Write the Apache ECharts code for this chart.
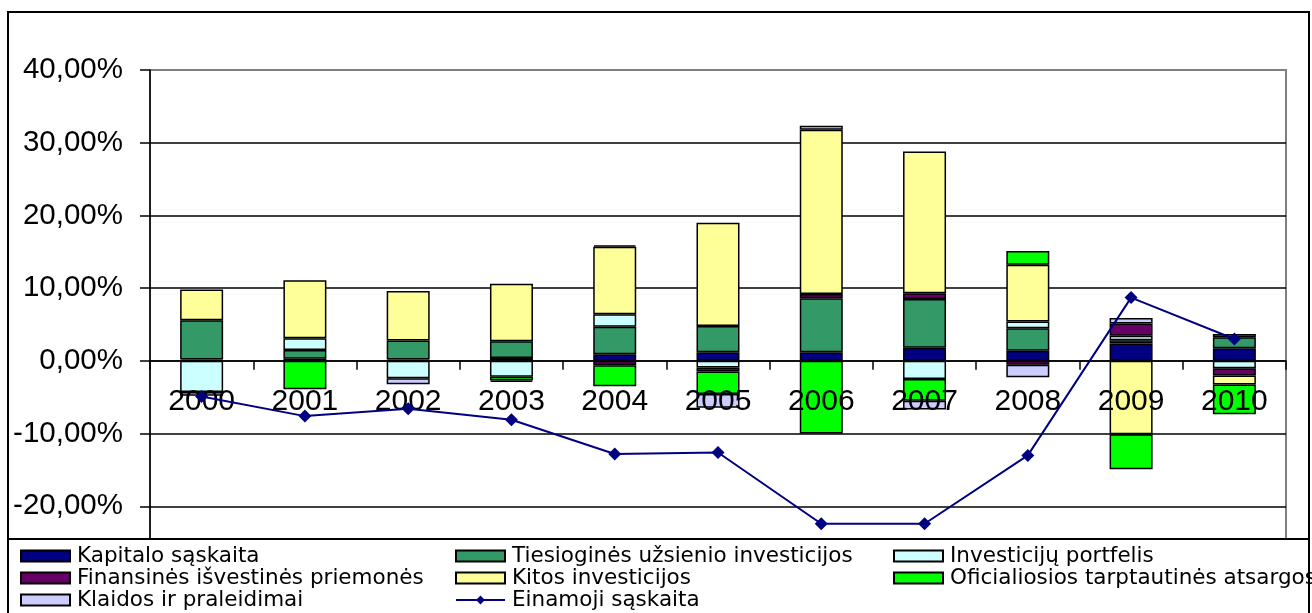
<!DOCTYPE html>
<html>
<head>
<meta charset="utf-8">
<title>Mokėjimų balansas</title>
<script src="https://cdn.jsdelivr.net/npm/echarts@6/dist/echarts.min.js"></script>
<style>
	html, body { margin: 0; padding: 0; background: #fff; }
	#chart_1 { width: 1312px; height: 613px; }
</style>
</head>
<body>
<div id="chart_1"></div>
<script>
// duomenys, % nuo BVP
var metai = ['2000', '2001', '2002', '2003', '2004', '2005', '2006', '2007', '2008', '2009', '2010'];
var kapitalo = [0.2, 0.3, 0.2, 0.4, 0.9, 1.2, 1.2, 1.8, 1.4, 2.4, 1.75];
var tiesiogines = [5.4, 1.2, 2.6, 2.3, 3.8, 3.6, 7.4, 6.7, 3.1, 0.45, 1.5];
var portfelis = [-4.3, 1.6, -2.4, -2.2, 1.7, -0.9, null, -2.5, 0.9, 0.6, -1.0];
var finansines = [null, null, null, null, -0.6, -0.55, 0.6, 0.8, -0.55, 1.7, -1.0];
var kitos = [4.2, 8.0, 6.8, 7.9, 9.3, 14.2, 22.6, 19.5, 7.8, -10.1, -1.25];
var oficialiosios = [null, -3.9, null, -0.5, -2.9, -3.1, -10.0, -3.0, 1.9, -4.8, -4.1];
var klaidos = [-0.5, null, -0.8, -0.2, 0.2, -1.9, 0.55, -1.2, -1.7, 0.75, 0.45];
var einamoji = [-4.9, -7.6, -6.6, -8.1, -12.8, -12.6, -22.4, -22.4, -13.0, 8.7, 3.0];

var fontas = '"Liberation Sans", Arial, sans-serif';

function stulpelis(name, color, data) {
	return {
		name: name,
		type: 'bar',
		stack: 'viso',
		barWidth: 43,
		data: data,
		itemStyle: {
			color: color,
			borderColor: '#000',
			borderWidth: 1.5
		}
	};
}

var myChart = echarts.init(document.getElementById('chart_1'));

var legendBase = {
	orient: 'vertical',
	top: 545,
	itemWidth: 49,
	itemHeight: 11,
	itemGap: 0,
	padding: 0,
	z: 20,
	textStyle: {
		color: '#000',
		fontSize: 21.5,
		lineHeight: 21.5,
		fontFamily: '"DejaVu Sans", sans-serif',
		padding: [0, 0, 0, 2]
	}
};

var option = {
	backgroundColor: '#fff',
	animation: false,
	textStyle: { fontFamily: fontas },
	grid: {
		left: 150,
		right: 26,
		top: 70,
		bottom: 34,
		outerBoundsMode: 'none',
		containLabel: false,
		show: true,
		borderColor: '#808080',
		borderWidth: 2
	},
	legend: [
		Object.assign({}, legendBase, {
			left: 20,
			data: [
				{ name: 'Kapitalo sąskaita', icon: 'rect' },
				{ name: 'Finansinės išvestinės priemonės', icon: 'rect' },
				{ name: 'Klaidos ir praleidimai', icon: 'rect' }
			]
		}),
		Object.assign({}, legendBase, {
			left: 455,
			data: [
				{ name: 'Tiesioginės užsienio investicijos', icon: 'rect' },
				{ name: 'Kitos investicijos', icon: 'rect' },
				{ name: 'Einamoji sąskaita' }
			]
		}),
		Object.assign({}, legendBase, {
			left: 893,
			data: [
				{ name: 'Investicijų portfelis', icon: 'rect' },
				{ name: 'Oficialiosios tarptautinės atsargos', icon: 'rect' }
			]
		})
	],
	graphic: [{
		type: 'rect',
		z: 10,
		shape: { x: 8, y: 539, width: 1301, height: 90 },
		style: { fill: '#fff', stroke: '#000', lineWidth: 2 }
	}, {
		type: 'rect',
		z: 10,
		shape: { x: 8, y: 12, width: 1301, height: 620 },
		style: { fill: 'none', stroke: '#000', lineWidth: 2 }
	}],
	xAxis: [{
		type: 'category',
		data: metai,
		z: 3,
		axisLine: {
			onZero: true,
			lineStyle: { color: '#000', width: 1.5 }
		},
		axisTick: {
			show: true,
			length: 9,
			lineStyle: { color: '#000', width: 1.5 }
		},
		axisLabel: { show: false }
	}, {
		// metų užrašai prie nulinės linijos
		type: 'category',
		data: metai,
		position: 'bottom',
		offset: -218,
		z: 3,
		axisLine: { show: false },
		axisTick: { show: false },
		splitLine: { show: false },
		axisLabel: {
			color: '#000',
			fontSize: 30,
			fontFamily: fontas,
			interval: 0,
			margin: 26
		}
	}],
	yAxis: {
		type: 'value',
		min: -30,
		max: 40,
		interval: 10,
		axisLine: {
			show: true,
			lineStyle: { color: '#000', width: 1.5 }
		},
		axisTick: {
			show: true,
			length: 10,
			lineStyle: { color: '#000', width: 1.5 }
		},
		splitLine: {
			show: true,
			lineStyle: {
				color: ['#000', '#000', '#000', '#000', '#000', '#000', '#000', '#808080'],
				width: 1.5
			}
		},
		axisLabel: {
			color: '#000',
			fontSize: 29.5,
			fontFamily: fontas,
			margin: 27,
			formatter: function(v) {
				return v.toFixed(2).replace('.', ',') + '%';
			}
		}
	},
	series: [
		stulpelis('Kapitalo sąskaita', '#000080', kapitalo),
		stulpelis('Tiesioginės užsienio investicijos', '#339966', tiesiogines),
		stulpelis('Investicijų portfelis', '#CCFFFF', portfelis),
		stulpelis('Finansinės išvestinės priemonės', '#660066', finansines),
		stulpelis('Kitos investicijos', '#FFFF99', kitos),
		stulpelis('Oficialiosios tarptautinės atsargos', '#00FF00', oficialiosios),
		stulpelis('Klaidos ir praleidimai', '#CCCCFF', klaidos),
		{
			name: 'Einamoji sąskaita',
			type: 'line',
			z: 5,
			data: einamoji,
			symbol: 'diamond',
			symbolSize: 13,
			lineStyle: { color: '#000080', width: 2 },
			itemStyle: { color: '#000080' }
		}
	]
};

myChart.setOption(option);
window.addEventListener('resize', function() {
	myChart.resize();
});
</script>
</body>
</html>
